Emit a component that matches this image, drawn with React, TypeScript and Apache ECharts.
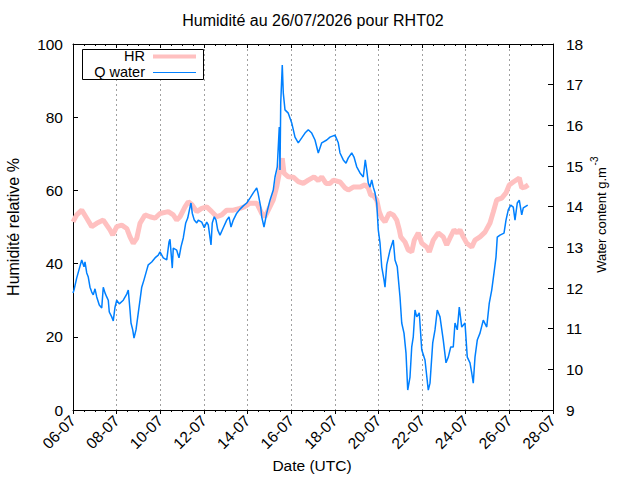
import React, { useEffect, useRef } from 'react';
import * as echarts from 'echarts';

// X axis: hours since 06-07-2026 00:00 UTC, ticks every 2 days
const xTickLabels = ['06-07', '08-07', '10-07', '12-07', '14-07', '16-07', '18-07', '20-07', '22-07', '24-07', '26-07', '28-07'];
const leftTicks = [0, 20, 40, 60, 80, 100];
const rightTicks = [9, 10, 11, 12, 13, 14, 15, 16, 17, 18];

// HR (%) : [hours, value]
const hrSeries: [number, number][] = [
  [0, 51.4], [4.1, 53.3], [9.6, 54.6], [15.1, 52.4], [20.6, 50.1], [26.1, 51.0], [33.3, 51.9], [37.1, 50.5],
  [40.7, 49.2], [43.7, 47.8], [48.1, 50.1], [53.6, 50.5], [59.1, 49.6], [62.7, 47.3], [66.3, 45.5], [70.1, 46.9],
  [73.7, 51.0], [79.2, 53.3], [84.7, 52.8], [90.2, 52.4], [95.7, 53.7], [104.8, 54.2], [110.3, 53.3], [114.1, 51.9],
  [117.7, 52.8], [123.2, 55.5], [126.8, 56.9], [131.2, 56.0], [136.1, 54.2], [141.6, 55.1], [147.1, 55.5], [152.6, 54.2],
  [158.1, 52.8], [163.6, 53.3], [169.1, 54.6], [176.3, 54.6], [183.7, 55.1], [188.4, 55.5], [194.7, 56.5], [202.1, 56.5],
  [207.6, 53.7], [211.2, 52.8], [214.8, 54.6], [220.3, 57.4], [224.1, 61.0], [226.9, 64.7], [230.2, 68.8], [232.1, 64.7],
  [236.8, 63.7], [242.3, 63.6], [247.8, 62.4], [253.3, 61.9], [258.8, 62.8], [265.1, 63.7], [269.8, 62.7], [273.6, 63.7],
  [278.3, 61.9], [282.7, 61.9], [286.3, 62.8], [293.7, 62.3], [299.2, 60.7], [302.8, 60.1], [308.3, 60.9], [315.7, 60.9],
  [321.2, 61.5], [324.8, 60.7], [327.5, 58.7], [330.3, 58.7], [334.1, 57.4], [337.0, 54.1], [339.6, 52.5], [343.2, 51.4],
  [347.9, 53.8], [352.3, 53.3], [356.1, 51.9], [359.0, 49.2], [360.5, 47.3], [365.2, 45.9], [368.8, 43.7], [372.6, 43.2],
  [375.4, 46.4], [379.8, 48.4], [383.6, 45.6], [389.1, 44.5], [391.9, 43.2], [396.3, 46.4], [401.8, 48.4], [407.3, 47.3],
  [411.1, 45.1], [414.7, 47.0], [419.1, 49.2], [422.7, 48.4], [425.7, 49.2], [429.3, 47.3], [433.1, 45.6], [438.6, 44.5],
  [442.2, 46.4], [447.7, 47.3], [453.2, 48.6], [458.7, 51.1], [462.3, 54.1], [466.1, 57.4], [471.6, 57.9], [476.3, 59.3],
  [479.9, 61.5], [484.3, 62.3], [490.9, 63.4], [493.6, 60.7], [497.2, 60.9], [500.8, 61.5],
];

// Q water (g.m-3) : [hours, value]
const qWaterSeries: [number, number][] = [
  [0, 11.88], [1.1, 11.95], [4.1, 12.25], [9.6, 12.69], [12.1, 12.52], [13.2, 12.64], [15.1, 12.37], [16.8, 12.27],
  [18.7, 12.02], [20.6, 11.90], [22.3, 11.83], [24.2, 11.98], [26.1, 11.78], [28.9, 11.58], [31.6, 11.51], [33.3, 12.02],
  [35.2, 11.88], [37.1, 11.78], [38.8, 11.70], [39.9, 11.41], [42.6, 11.29], [44.3, 11.19], [46.2, 11.53], [48.1, 11.70],
  [50.9, 11.61], [55.3, 11.70], [59.1, 11.85], [60.8, 11.95], [62.7, 11.46], [63.8, 11.14], [65.7, 10.97], [67.1, 10.77],
  [69.3, 10.97], [71.8, 11.39], [73.7, 11.70], [75.6, 12.02], [78.1, 12.20], [81.1, 12.44], [82.8, 12.57], [86.6, 12.64],
  [90.2, 12.74], [93.8, 12.81], [95.7, 12.89], [99.3, 12.74], [103.1, 12.69], [105.6, 13.13], [106.7, 13.20], [109.2, 12.49],
  [110.3, 12.98], [114.1, 12.93], [116.6, 12.74], [118.8, 13.01], [121.3, 13.23], [124.0, 13.60], [126.2, 13.72], [128.7, 13.99],
  [129.8, 14.09], [131.2, 13.84], [133.4, 13.67], [136.1, 13.60], [137.8, 13.67], [141.6, 13.62], [144.4, 13.48], [147.1, 13.62],
  [148.8, 13.55], [151.8, 13.06], [153.2, 13.60], [155.4, 13.75], [157.3, 13.67], [159.2, 13.43], [161.7, 13.30], [165.3, 13.48],
  [169.1, 13.67], [171.6, 13.75], [173.8, 13.50], [176.3, 13.67], [180.1, 13.84], [183.7, 13.94], [187.3, 14.02], [191.1, 14.09],
  [194.7, 14.21], [198.3, 14.34], [202.1, 14.46], [203.5, 14.34], [206.5, 13.99], [207.6, 13.75], [210.1, 13.50], [213.1, 13.84],
  [216.7, 14.16], [220.3, 14.41], [222.2, 14.73], [224.7, 14.98], [226.9, 15.96], [227.7, 14.90], [228.5, 16.55], [230.2, 17.48],
  [231.3, 16.80], [233.2, 16.38], [236.8, 16.30], [240.6, 16.06], [244.2, 15.71], [247.8, 15.57], [251.6, 15.69], [255.2, 15.81],
  [258.8, 15.89], [262.6, 15.81], [266.2, 15.64], [269.8, 15.32], [273.6, 15.57], [279.1, 15.64], [282.7, 15.71], [288.2, 15.76],
  [291.8, 15.57], [293.7, 15.32], [297.3, 15.15], [300.3, 15.07], [302.8, 15.20], [306.6, 15.32], [309.1, 15.22], [312.1, 14.98],
  [315.7, 14.83], [319.3, 14.73], [321.5, 15.15], [323.1, 14.90], [324.8, 14.58], [326.7, 14.48], [328.6, 14.66], [330.3, 14.48],
  [332.2, 14.34], [334.1, 14.09], [335.8, 13.43], [337.7, 13.11], [339.6, 12.52], [342.1, 12.20], [343.2, 12.02], [345.1, 12.57],
  [348.7, 12.93], [352.3, 13.18], [354.2, 12.69], [356.7, 12.52], [359.7, 11.78], [361.6, 11.14], [364.1, 10.89], [366.3, 10.40],
  [368.2, 9.49], [370.7, 9.81], [372.6, 10.55], [374.3, 10.80], [376.2, 11.46], [378.1, 11.29], [380.9, 11.39], [383.6, 10.48],
  [387.2, 10.23], [390.8, 9.49], [392.7, 9.66], [395.7, 10.65], [398.2, 10.97], [400.7, 11.46], [403.7, 11.29], [407.3, 10.72],
  [410.3, 10.16], [412.8, 10.30], [415.5, 10.55], [418.3, 10.55], [420.2, 11.14], [422.7, 10.97], [424.9, 11.53], [427.6, 11.04],
  [431.2, 11.14], [433.7, 10.30], [436.7, 10.16], [438.6, 9.91], [440.3, 9.66], [442.2, 10.30], [444.7, 10.72], [447.7, 10.89],
  [451.3, 11.21], [455.1, 11.04], [457.9, 11.63], [460.6, 11.95], [463.1, 12.37], [465.3, 12.76], [466.7, 13.25], [469.7, 13.30],
  [474.1, 13.35], [476.3, 13.67], [478.8, 13.92], [481.5, 14.04], [484.3, 13.99], [486.2, 13.67], [488.7, 14.09], [490.9, 14.16],
  [493.6, 13.80], [495.3, 13.97], [500.2, 14.04],
];

const FONT = '"Liberation Sans", Arial, Helvetica, sans-serif';
const PINK = '#ffc0c0';
const BLUE = '#0080ff';
const FS = 15.5;
const LEGEND_FS = 14.5;

function buildOption(): any {
  const xStep = 48;
  const xMax = (xTickLabels.length - 1) * xStep;
  const commonX = {
    type: 'value',
    min: 0,
    max: xMax,
    interval: xStep,
  };
  return {
    animation: false,
    backgroundColor: '#ffffff',
    textStyle: { fontFamily: FONT },
    grid: { left: 73, right: 87, top: 44, bottom: 70, containLabel: false, outerBoundsMode: 'none' },
    xAxis: [
      {
        ...commonX,
        position: 'bottom',
        axisLine: { show: true, onZero: false, lineStyle: { color: '#000', width: 1 } },
        axisTick: { show: true, inside: false, length: 4, lineStyle: { color: '#000' } },
        minorTick: { show: true, splitNumber: 4, length: 2, lineStyle: { color: '#000' } },
        axisLabel: {
          rotate: 45,
          margin: 8,
          color: '#000',
          fontSize: FS,
          fontFamily: FONT,
          showMinLabel: true,
          showMaxLabel: true,
          formatter: (v: number) => xTickLabels[Math.round(v / xStep)] ?? '',
        },
        splitLine: { show: true, lineStyle: { color: '#a0a0a0', type: [2, 3], width: 1 } },
      },
      {
        ...commonX,
        position: 'top',
        axisLine: { show: true, onZero: false, lineStyle: { color: '#000', width: 1 } },
        axisTick: { show: true, inside: true, length: 4, lineStyle: { color: '#000' } },
        minorTick: { show: true, splitNumber: 4, length: 2, lineStyle: { color: '#000' } },
        axisLabel: { show: false },
        splitLine: { show: false },
      },
    ],
    yAxis: [
      {
        type: 'value',
        position: 'left',
        min: leftTicks[0],
        max: leftTicks[leftTicks.length - 1],
        interval: leftTicks[1] - leftTicks[0],
        axisLine: { show: true, onZero: false, lineStyle: { color: '#000', width: 1 } },
        axisTick: { show: true, inside: true, length: 5, lineStyle: { color: '#000' } },
        axisLabel: { margin: 10, color: '#000', fontSize: FS, fontFamily: FONT },
        splitLine: { show: false },
      },
      {
        type: 'value',
        position: 'right',
        min: rightTicks[0],
        max: rightTicks[rightTicks.length - 1],
        interval: rightTicks[1] - rightTicks[0],
        axisLine: { show: true, onZero: false, lineStyle: { color: '#000', width: 1 } },
        axisTick: { show: true, inside: true, length: 5, lineStyle: { color: '#000' } },
        axisLabel: { margin: 13, color: '#000', fontSize: FS, fontFamily: FONT },
        splitLine: { show: false },
      },
    ],
    series: [
      {
        name: 'HR',
        type: 'line',
        xAxisIndex: 0,
        yAxisIndex: 0,
        data: hrSeries,
        symbol: 'none',
        showSymbol: false,
        silent: true,
        z: 2,
        lineStyle: { color: PINK, width: 5, join: 'bevel' },
        itemStyle: { color: PINK },
      },
      {
        name: 'Q water',
        type: 'line',
        xAxisIndex: 0,
        yAxisIndex: 1,
        data: qWaterSeries,
        symbol: 'none',
        showSymbol: false,
        silent: true,
        z: 3,
        lineStyle: { color: BLUE, width: 1.5 },
        itemStyle: { color: BLUE },
      },
    ],
    graphic: [
      {
        type: 'text', x: 313, y: 20.5,
        style: { text: 'Humidité au 26/07/2026 pour RHT02', align: 'center', verticalAlign: 'middle', fontSize: 16, fontFamily: FONT, fill: '#000' },
      },
      {
        type: 'text', x: 13, y: 227, rotation: Math.PI / 2,
        style: { text: 'Humidité relative %', align: 'center', verticalAlign: 'middle', fontSize: 16, fontFamily: FONT, fill: '#000' },
      },
      {
        type: 'text', x: 601, y: 220, rotation: Math.PI / 2,
        style: { text: 'Water content g.m', align: 'center', verticalAlign: 'middle', fontSize: 13, fontFamily: FONT, fill: '#000' },
      },
      {
        type: 'text', x: 594.5, y: 161, rotation: Math.PI / 2,
        style: { text: '-3', align: 'center', verticalAlign: 'middle', fontSize: 10, fontFamily: FONT, fill: '#000' },
      },
      {
        type: 'text', x: 312, y: 465.5,
        style: { text: 'Date (UTC)', align: 'center', verticalAlign: 'middle', fontSize: FS, fontFamily: FONT, fill: '#000' },
      },
      {
        type: 'rect', z: 100,
        shape: { x: 82.5, y: 49.5, width: 121, height: 30 },
        style: { fill: '#fff', stroke: '#000', lineWidth: 1 },
      },
      {
        type: 'text', x: 145, y: 55.5, z: 101,
        style: { text: 'HR', align: 'right', verticalAlign: 'middle', fontSize: LEGEND_FS, fontFamily: FONT, fill: '#000' },
      },
      {
        type: 'line', z: 101,
        shape: { x1: 153, y1: 56.5, x2: 196, y2: 56.5 },
        style: { stroke: PINK, lineWidth: 4 },
      },
      {
        type: 'text', x: 145, y: 71.5, z: 101,
        style: { text: 'Q water', align: 'right', verticalAlign: 'middle', fontSize: LEGEND_FS, fontFamily: FONT, fill: '#000' },
      },
      {
        type: 'line', z: 101,
        shape: { x1: 153, y1: 72.5, x2: 196, y2: 72.5 },
        style: { stroke: BLUE, lineWidth: 1.2 },
      },
    ],
  };
}

export default function App() {
  const ref = useRef<HTMLDivElement>(null);
  useEffect(() => {
    if (!ref.current) return;
    const chart = echarts.init(ref.current, null, { renderer: 'svg', width: 640, height: 480 });
    chart.setOption(buildOption());
    return () => chart.dispose();
  }, []);
  return (
    <div
      ref={ref}
      style={{ position: 'absolute', left: 0, top: 0, width: 640, height: 480, background: '#fff' }}
    />
  );
}
